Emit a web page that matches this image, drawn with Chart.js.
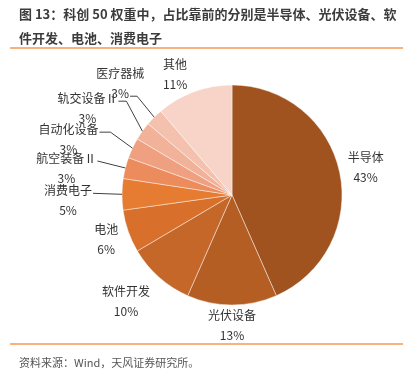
<!DOCTYPE html>
<html>
<head>
<meta charset="utf-8">
<script src="https://cdn.jsdelivr.net/npm/chart.js@4"></script>
<style>
  html, body { margin:0; padding:0; background:#fff; }
  #wrap { position:relative; width:412px; height:381px; overflow:hidden; font-family:"Noto Sans CJK SC","Noto Sans",sans-serif; }
  #title { position:absolute; left:19px; top:2px; width:390px; font-size:13px; line-height:24px; font-weight:bold; color:#3c3c3c; letter-spacing:0px; }
  .rule { position:absolute; left:10px; width:393px; height:1.5px; background:#f8b27c; }
  #src { position:absolute; left:19px; top:354px; font-size:11px; color:#555; }
  #chart { position:absolute; left:0; top:0; }
</style>
</head>
<body>
<div id="wrap">
  <canvas id="chart" width="412" height="381"></canvas>
  <div id="title">图 13：科创 50 权重中，占比靠前的分别是半导体、光伏设备、软<br>件开发、电池、消费电子</div>
  <div class="rule" style="top:47px"></div>
  <div class="rule" style="top:343px"></div>
  <div id="src">资料来源：Wind，天风证券研究所。</div>
</div>
<script>
const categories = ["半导体","光伏设备","软件开发","电池","消费电子","航空装备Ⅱ","自动化设备","轨交设备Ⅱ","医疗器械","其他"];
const weights = [43.4, 13.2, 9.9, 6.3, 4.6, 3.1, 3.0, 2.7, 2.6, 11.2];
const sliceColors = ["#a0531f","#b55e24","#c6672a","#d8702c","#e57c32","#ec8c5c","#efa080","#f2b29a","#f4c1ae","#f7d4c7"];

// label placement relative to each slice's outer mid-point (style only)
const labelOffsets = [[26,-5],[0,20],[-33,24],[-22,8],[-54,6],[-59,0],[-64,-9],[-55,-23],[-34,-34],[-19,-17]];
const leaders = [null,null,null,null,
  {attach:'name', elbow:0},
  {attach:'name', elbow:0},
  {attach:'name', elbow:11},
  {attach:'name', elbow:8},
  {attach:'pct', elbow:7},
  null];

const labelPlugin = {
  id:'pieLabels',
  afterDatasetsDraw(chart){
    const ctx = chart.ctx;
    const meta = chart.getDatasetMeta(0);
    const data = chart.data.datasets[0].data;
    const total = data.reduce((a,b)=>a+b,0);
    ctx.save();
    ctx.font = '12px "Noto Sans CJK SC", "Noto Sans", sans-serif';
    ctx.textAlign = 'center';
    ctx.textBaseline = 'middle';
    meta.data.forEach((arc,i)=>{
      const p = arc.getProps(['x','y','startAngle','endAngle','outerRadius'], true);
      const mid = (p.startAngle+p.endAngle)/2;
      const ex = p.x + Math.cos(mid)*p.outerRadius;
      const ey = p.y + Math.sin(mid)*p.outerRadius;
      const cx = ex + labelOffsets[i][0];
      const cy = ey + labelOffsets[i][1];
      const name = chart.data.labels[i];
      const pct = Math.round(data[i]/total*100) + '%';
      const nameY = cy - 10, pctY = cy + 10;
      ctx.fillStyle = '#333';
      ctx.fillText(name, cx, nameY);
      ctx.fillText(pct, cx, pctY);
      const L = leaders[i];
      if (L) {
        const txt = L.attach === 'name' ? name : pct;
        const ly = (L.attach === 'name' ? nameY : pctY) + 3;
        const lx = cx + ctx.measureText(txt).width/2 + 1;
        ctx.beginPath();
        ctx.strokeStyle = '#404040';
        ctx.lineWidth = 1;
        ctx.moveTo(lx, ly);
        ctx.lineTo(lx + L.elbow, ly);
        ctx.lineTo(ex, ey);
        ctx.stroke();
      }
    });
    ctx.restore();
  }
};

new Chart(document.getElementById('chart'), {
  type:'pie',
  data:{
    labels: categories,
    datasets:[{
      data: weights,
      backgroundColor: sliceColors,
      borderColor: 'rgba(255,255,255,0.55)',
      borderWidth: 0.8
    }]
  },
  options:{
    responsive:false,
    animation:false,
    radius: 110,
    layout:{ padding:{ left:122, right:70, top:85, bottom:76 } },
    plugins:{ legend:{display:false}, tooltip:{enabled:false} }
  },
  plugins:[labelPlugin]
});
</script>
</body>
</html>
